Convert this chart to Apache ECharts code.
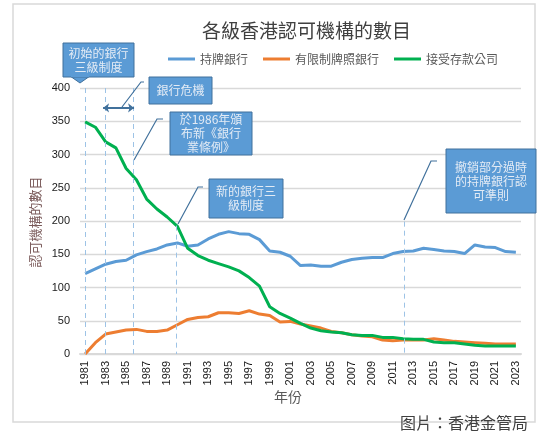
<!DOCTYPE html>
<html>
<head>
<meta charset="utf-8">
<script src="https://cdn.jsdelivr.net/npm/echarts@6/dist/echarts.min.js"></script>
<style>
html,body{margin:0;padding:0;background:#fff;}
#chart{width:551px;height:443px;}
</style>
</head>
<body>
<div id="chart"></div>
<script>
// ---- data ----
const years = [];
for (let y = 1981; y <= 2023; y++) years.push(String(y));
const licensedBanks = [121,128,135,139,141,149,154,158,164,167,162,164,173,180,184,181,180,172,155,153,147,133,134,132,132,138,142,144,145,145,151,154,155,159,157,155,154,151,164,161,160,154,153];
const restrictedBanks = [0,17,30,33,36,37,34,34,36,44,52,55,56,62,62,61,65,60,58,48,49,45,42,39,34,32,29,27,26,21,20,21,21,21,23,21,19,18,17,16,15,15,15];
const depositCompanies = [349,341,319,310,279,262,233,218,206,192,159,148,141,136,131,125,115,102,71,61,54,46,39,35,33,32,29,28,28,25,25,23,22,22,18,17,17,15,13,12,12,12,12];
const seriesNames = ['持牌銀行','有限制牌照銀行','接受存款公司'];
const yTicks = [0,50,100,150,200,250,300,350,400];
const titleText = '各級香港認可機構的數目';
const yAxisName = '認可機構的數目';
const xAxisName = '年份';
const sourceText = '图片：香港金管局';
// event markers (year position, top value)
const eventLines = [[1981,400],[1983,400],[1985.7,400],[1989.9,193],[2012.1,199]];
const crisisSpan = [1982.75,1985.77,370];
const notes = ['初始的銀行\n三級制度','銀行危機','於1986年頒\n布新《銀行\n業條例》','新的銀行三\n級制度','撤銷部分過時\n的持牌銀行認\n可準則'];

const FONT = '"Noto Sans CJK TC","Noto Sans",sans-serif';
const chart = echarts.init(document.getElementById('chart'), null, {renderer:'canvas'});

const boxFill = '#5B9BD5', boxStroke = '#41719C', leader = '#41719C';
function box(x,y,w,h,text){
  return [{
    type:'rect', shape:{x:x,y:y,width:w,height:h},
    style:{fill:boxFill, stroke:boxStroke, lineWidth:1}, z:10
  },{
    type:'text', x:x+w/2, y:y+h/2, z:12,
    style:{text:text, fill:'#e3ebf5', font:'12px '+FONT, align:'center', verticalAlign:'middle', lineHeight:14}
  }];
}
function poly(points){
  return {type:'polyline', shape:{points:points}, style:{stroke:leader, lineWidth:1.2, fill:null}, z:9};
}

const dashedData = eventLines.map(e => [{coord:[e[0], e[1]]},{coord:[e[0],0]}]);

const graphics = [
  {type:'rect', shape:{x:13,y:4,width:522,height:418}, style:{fill:null, stroke:'#d9d9d9', lineWidth:1.5}, z:0},
  {type:'text', style:{text:yAxisName, fill:'#7a5a5a', font:'13px '+FONT, align:'center', verticalAlign:'middle'}, x:35, y:222, rotation:Math.PI/2, z:5},
  {type:'text', style:{text:xAxisName, fill:'#595959', font:'14px '+FONT, align:'center', verticalAlign:'middle'}, x:288, y:397, z:5},
  {type:'text', style:{text:sourceText, fill:'#404040', font:'16px '+FONT, align:'right', verticalAlign:'middle'}, x:528, y:423, z:5},
  {type:'polygon', shape:{points:[[70,76],[90,76],[80,83]]}, style:{fill:boxFill, stroke:boxStroke, lineWidth:1}, z:10}
].concat(
  box(63,43,71,34,notes[0]),
  [{type:'rect', shape:{x:71,y:75,width:18,height:2}, style:{fill:boxFill}, z:11}],
  box(149,77,63,27,notes[1]),
  [poly([[144,82],[141,82],[122,107]])],
  box(170,112,82,43,notes[2]),
  [poly([[163,119],[157,119],[134,160]])],
  box(209,179,74,39,notes[3]),
  [poly([[203,187],[198,187],[178,224]])],
  box(446,149,90,64,notes[4]),
  [poly([[437,161],[431,161],[404,220]])]
);

chart.setOption({
  animation:false,
  backgroundColor:'#fff',
  textStyle:{fontFamily:FONT},
  title:{text:titleText, left:197, top:16, textStyle:{fontSize:19, fontWeight:'normal', color:'#404040', fontFamily:FONT}},
  legend:{data:seriesNames, left:163, top:48, itemWidth:27, itemHeight:3, itemGap:15, icon:'rect',
    textStyle:{fontSize:12, color:'#595959', fontFamily:FONT}},
  grid:{left:80, right:30, top:88, bottom:89},
  xAxis:[{
    type:'category', data:years, boundaryGap:true,
    axisLine:{lineStyle:{color:'#d9d9d9', width:2}},
    axisTick:{show:false},
    axisLabel:{interval:1, rotate:90, margin:7, fontSize:11, color:'#1a1a1a', fontFamily:'"Liberation Sans",Arial,sans-serif'}
  },{
    type:'value', min:1980.5, max:2023.5, show:false
  }],
  yAxis:{
    type:'value', min:0, max:400, interval:50,
    axisLine:{show:false}, axisTick:{show:false},
    splitLine:{lineStyle:{color:'#d9d9d9', width:1.3}},
    axisLabel:{margin:10, fontSize:11, color:'#1a1a1a', fontFamily:'"Liberation Sans",Arial,sans-serif',
      formatter: v => yTicks.indexOf(v) >= 0 ? String(v) : ''}
  },
  series:[
    {name:seriesNames[0], type:'line', data:licensedBanks, showSymbol:false, lineStyle:{width:3, color:'#5B9BD5'}, itemStyle:{color:'#5B9BD5'}, z:3},
    {name:seriesNames[1], type:'line', data:restrictedBanks, showSymbol:false, lineStyle:{width:3, color:'#ED7D31'}, itemStyle:{color:'#ED7D31'}, z:3},
    {name:seriesNames[2], type:'line', data:depositCompanies, showSymbol:false, lineStyle:{width:3, color:'#00B050'}, itemStyle:{color:'#00B050'}, z:4},
    {type:'line', xAxisIndex:1, data:[[1981,0]], showSymbol:false, lineStyle:{opacity:0}, silent:true, z:2,
      markLine:{silent:true, symbol:['none','none'], label:{show:false},
        lineStyle:{type:[5,4], color:'#9DC3E6', width:1},
        data:dashedData.concat([[
          {coord:[crisisSpan[0],crisisSpan[2]], symbol:'arrow', symbolSize:[7,6], lineStyle:{type:'solid', color:'#41719C', width:2}},
          {coord:[crisisSpan[1],crisisSpan[2]], symbol:'arrow', symbolSize:[7,6]}
        ]])
      }
    }
  ],
  graphic:graphics
});
</script>
</body>
</html>
